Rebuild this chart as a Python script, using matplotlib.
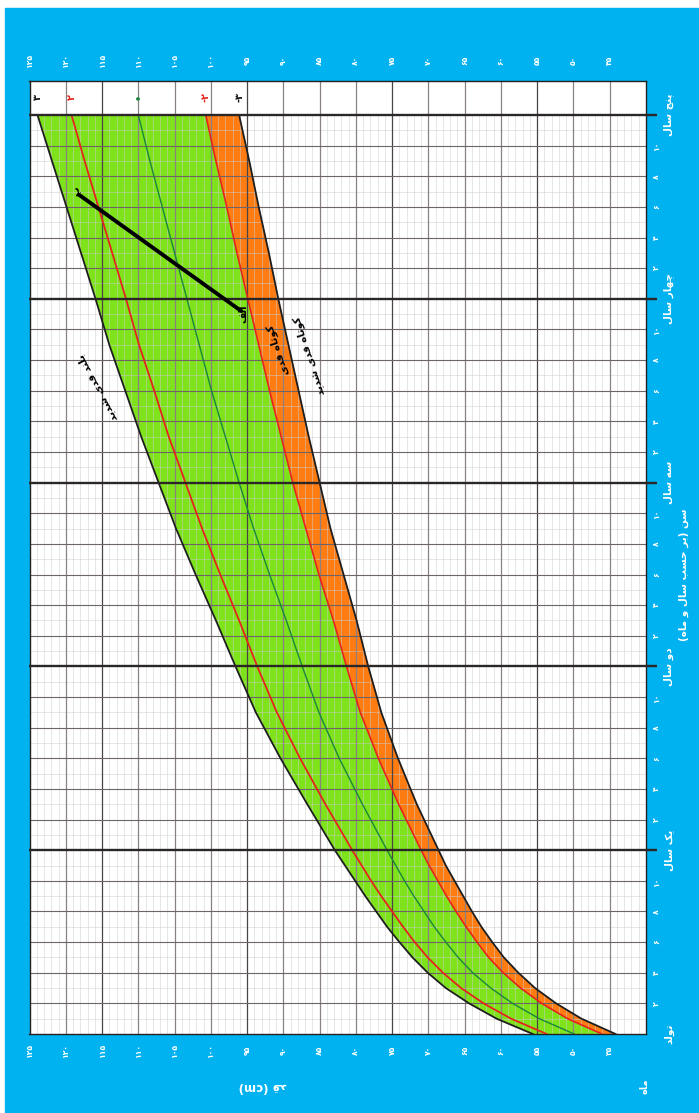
import matplotlib
matplotlib.use("Agg")
import matplotlib.pyplot as plt
from matplotlib.patches import Rectangle

# WHO boys height-for-age (cm)
ages   = [0, 1, 2, 3, 4, 5, 6, 7, 8, 9, 10, 11, 12, 15, 18, 21, 24, 27, 30, 33, 36, 39, 42, 45, 48, 51, 54, 57, 60]
sd_m3  = [44.2, 48.9, 52.4, 55.3, 57.6, 59.6, 61.2, 62.7, 64.0, 65.2, 66.4, 67.6, 68.6, 71.6, 74.2, 76.5, 78.3, 79.9, 81.7, 83.5, 85.0, 86.5, 87.9, 89.3, 90.7, 92.0, 93.4, 94.7, 96.1]
sd_m2  = [46.1, 50.8, 54.4, 57.3, 59.7, 61.7, 63.3, 64.8, 66.2, 67.5, 68.7, 69.9, 71.0, 74.1, 76.9, 79.4, 81.3, 83.1, 85.1, 86.9, 88.7, 90.3, 91.9, 93.4, 94.9, 96.4, 97.8, 99.3, 100.7]
median = [49.9, 54.7, 58.4, 61.4, 63.9, 65.9, 67.6, 69.2, 70.6, 72.0, 73.3, 74.5, 75.7, 79.1, 82.3, 85.1, 87.4, 89.6, 91.9, 94.1, 96.1, 98.0, 99.9, 101.6, 103.3, 105.0, 106.7, 108.4, 110.0]
sd_p2  = [53.7, 58.6, 62.4, 65.5, 68.0, 70.1, 71.9, 73.5, 75.0, 76.5, 77.9, 79.2, 80.5, 84.2, 87.7, 90.9, 93.6, 96.1, 98.7, 101.2, 103.5, 105.8, 107.8, 109.9, 111.7, 113.6, 115.5, 117.4, 119.2]
sd_p3  = [55.6, 60.6, 64.4, 67.6, 70.1, 72.2, 74.0, 75.7, 77.2, 78.7, 80.1, 81.5, 82.9, 86.7, 90.4, 93.8, 96.6, 99.3, 102.1, 104.8, 107.2, 109.6, 111.8, 114.0, 115.9, 117.9, 119.9, 121.9, 123.9]

# measured child: two visits (age months, height cm)
child_age = [47.2, 54.8]
child_h = [95.8, 118.2]
child_tags = ["الف", "ب"]

height_ticks = list(range(45, 126, 5))
year_names = ["تولد", "یک سال", "دو سال", "سه سال", "چهار سال", "پنج سال"]
z_names = ["۳", "۲", "•", "-۲", "-۳"]

BLUE = "#00b2f0"
GREEN = "#7fe31c"
ORANGE = "#ff7c12"
RED = "#e5231c"
DKGREEN = "#17863a"

FORMS = {
    'ا': ('\uFE8D', '\uFE8E', None, None),
    'ب': ('\uFE8F', '\uFE90', '\uFE91', '\uFE92'),
    'پ': ('\uFB56', '\uFB57', '\uFB58', '\uFB59'),
    'ت': ('\uFE95', '\uFE96', '\uFE97', '\uFE98'),
    'ج': ('\uFE9D', '\uFE9E', '\uFE9F', '\uFEA0'),
    'چ': ('\uFB7A', '\uFB7B', '\uFB7C', '\uFB7D'),
    'ح': ('\uFEA1', '\uFEA2', '\uFEA3', '\uFEA4'),
    'د': ('\uFEA9', '\uFEAA', None, None),
    'ر': ('\uFEAD', '\uFEAE', None, None),
    'س': ('\uFEB1', '\uFEB2', '\uFEB3', '\uFEB4'),
    'ش': ('\uFEB5', '\uFEB6', '\uFEB7', '\uFEB8'),
    'ف': ('\uFED1', '\uFED2', '\uFED3', '\uFED4'),
    'ق': ('\uFED5', '\uFED6', '\uFED7', '\uFED8'),
    'ک': ('\uFB8E', '\uFB8F', '\uFB90', '\uFB91'),
    'ل': ('\uFEDD', '\uFEDE', '\uFEDF', '\uFEE0'),
    'م': ('\uFEE1', '\uFEE2', '\uFEE3', '\uFEE4'),
    'ن': ('\uFEE5', '\uFEE6', '\uFEE7', '\uFEE8'),
    'ه': ('\uFEE9', '\uFEEA', '\uFEEB', '\uFEEC'),
    'و': ('\uFEED', '\uFEEE', None, None),
    'ی': ('\uFBFC', '\uFBFD', '\uFBFE', '\uFBFF'),
}


def fa(s):
    # join persian letters and put them in visual order
    out = []
    for i, ch in enumerate(s):
        if ch not in FORMS:
            out.append(ch)
            continue
        f = FORMS[ch]
        prev = s[i-1] if i > 0 else ''
        nxt = s[i+1] if i+1 < len(s) else ''
        jp = prev in FORMS and FORMS[prev][2] is not None
        jn = f[2] is not None and nxt in FORMS
        if jp and jn:
            out.append(f[3])
        elif jp:
            out.append(f[1])
        elif jn:
            out.append(f[2])
        else:
            out.append(f[0])
    vis = ''.join(reversed(out))
    return vis.translate(str.maketrans('()', ')('))


def fa_num(n):
    return str(n).translate(str.maketrans('0123456789', '۰۱۲۳۴۵۶۷۸۹'))


plt.rcParams['font.family'] = ['DejaVu Sans']

W, H = 699, 1113
fig = plt.figure(figsize=(W/100, H/100), dpi=100, facecolor='white')
fig.patches.append(Rectangle((5/W, 0), 1, 1-8/H, transform=fig.transFigure, color=BLUE, zorder=-10))

bl, br, bt, bb = 29.5, 646, 81, 1034
ax = fig.add_axes([bl/W, 1-bb/H, (br-bl)/W, (bb-bt)/H])
ax.set_zorder(1)
age_top = 60*(bb-bt)/(bb-115)
ax.set_xlim(125, 40)
ax.set_ylim(0, age_top)
ax.set_xticks([])
ax.set_yticks([])
ax.set_facecolor('white')
for s in ax.spines.values():
    s.set_color('#222222')
    s.set_linewidth(1.0)

# fills
ax.fill_betweenx(ages, sd_p3, sd_m2, color=GREEN, lw=0, zorder=1)
ax.fill_betweenx(ages, sd_m2, sd_m3, color=ORANGE, lw=0, zorder=1)

# grid
for h in range(41, 125):
    if h % 5:
        ax.vlines(h, 0, 60, color='#cccccc', lw=0.5, alpha=0.7, zorder=1.5)
for h in range(45, 125, 5):
    c = '#4a4444' if h in (115, 95, 75, 55) else '#8a8282'
    ax.vlines(h, 0, age_top, color=c, lw=0.9, zorder=1.6)
for m in range(1, 60):
    if m % 12 == 0:
        continue
    if m % 2 == 0:
        ax.hlines(m, 40, 125, color='#6e6666', lw=0.8, zorder=1.6)
    else:
        ax.hlines(m, 40, 125, color='#cccccc', lw=0.5, alpha=0.7, zorder=1.5)
for m in range(12, 61, 12):
    ax.hlines(m, 125, 38.5, color='#2b2727', lw=1.7, clip_on=False, zorder=4)

# curves
ax.plot(sd_p3, ages, color='#1e1e1e', lw=1.3, zorder=3)
ax.plot(sd_p2, ages, color=RED, lw=1.3, zorder=3)
ax.plot(median, ages, color=DKGREEN, lw=1.0, zorder=3)
ax.plot(sd_m2, ages, color=RED, lw=1.2, zorder=3)
ax.plot(sd_m3, ages, color='#1e1e1e', lw=1.3, zorder=3)

# measured child
ax.plot(child_h, child_age, color='black', lw=2.8, solid_capstyle='round', zorder=5)
ax.text(child_h[0]-0.3, child_age[0]-0.2, fa(child_tags[0]), rotation=90, fontsize=7,
        fontweight='bold', ha='center', va='center', zorder=6)
ax.text(child_h[1]+0.3, child_age[1]+0.2, fa(child_tags[1]), rotation=90, fontsize=7,
        fontweight='bold', ha='center', va='center', zorder=6)

# zone names
ax.text(115.7, 42.2, fa("بلند قدی شدید"), rotation=118, fontsize=7.5, fontweight='bold',
        ha='center', va='center', zorder=6)
ax.text(90.7, 44.7, fa("کوتاه قدی"), rotation=108, fontsize=7.5, fontweight='bold',
        ha='center', va='center', zorder=6)
ax.text(86.4, 44.3, fa("کوتاه قدی شدید"), rotation=108, fontsize=7.5, fontweight='bold',
        ha='center', va='center', zorder=6)

# z-score marks in header
z_end = [sd_p3[-1], sd_p2[-1], median[-1], sd_m2[-1], sd_m3[-1]]
z_col = ['#111111', RED, DKGREEN, RED, '#111111']
for v, t, c in zip(z_end, z_names, z_col):
    ax.text(v, 61.15, t, rotation=90, color=c, fontsize=7, fontweight='bold',
            ha='center', va='center')

# height tick labels (top and bottom)
xt = ax.get_xaxis_transform()
for h in height_ticks:
    for yy in (1.022, -0.0168):
        ax.text(h, yy, fa_num(h), transform=xt, rotation=90, color='white', fontsize=5.5,
                fontweight='bold', ha='center', va='center', clip_on=False)

# age labels (right)
yt = ax.get_yaxis_transform()
for m in range(0, 61):
    if m % 12 == 0:
        ax.text(1.037, m, fa(year_names[m//12]), transform=yt, rotation=90, color='white',
                fontsize=7.5, fontweight='bold', ha='center', va='center')
    elif m % 2 == 0:
        ax.text(1.017, m, fa_num(m % 12), transform=yt, rotation=90, color='white',
                fontsize=5.5, fontweight='bold', ha='center', va='center')

ax.text(1.062, 30.0, fa("سن (بر حسب سال و ماه)"), transform=yt, rotation=90, color='white',
        fontsize=7.5, fontweight='bold', ha='center', va='center')
ax.text(0.379, -0.0556, fa("قد") + " (cm)", transform=ax.transAxes, rotation=180, color='white',
        fontsize=8.5, fontweight='bold', ha='center', va='center')
ax.text(0.998, -0.0546, fa("ماه"), transform=ax.transAxes, rotation=90, color='white',
        fontsize=7, fontweight='bold', ha='center', va='center')

fig.savefig('out.png', dpi=100, facecolor='white')
